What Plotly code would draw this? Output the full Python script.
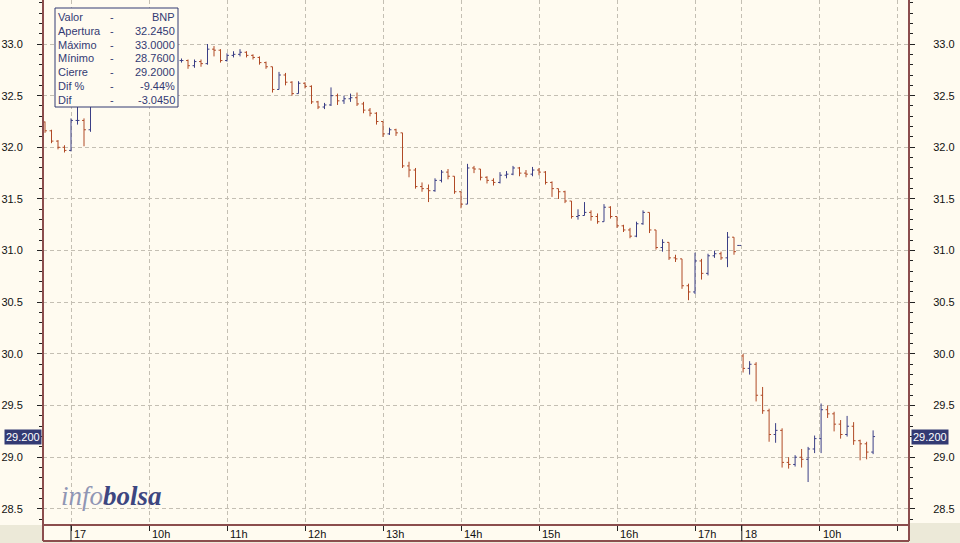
import plotly.graph_objects as go

# ---------------- data (5-minute OHLC bars) ----------------
d17_times = ["%02d:%02d" % divmod(8 * 60 + 40 + 5 * i, 60) for i in range(107)] + ["17:34"]
d17_open = [32.245, 32.16, 32.06, 32.00, 31.97, 32.26, 32.26, 32.17, 32.42, 32.50,
            32.55, 32.62, 32.66, 32.70, 32.72, 32.76, 32.74, 32.78, 32.80, 32.82,
            32.81, 32.84, 32.84, 32.79, 32.83, 32.81, 32.95, 32.94, 32.84, 32.89,
            32.90, 32.92, 32.89, 32.87, 32.82, 32.78, 32.56, 32.70, 32.63, 32.52,
            32.62, 32.59, 32.44, 32.39, 32.41, 32.50, 32.45, 32.47, 32.48, 32.42,
            32.36, 32.33, 32.25, 32.13, 32.17, 32.14, 31.82, 31.78, 31.62, 31.60,
            31.58, 31.68, 31.76, 31.72, 31.57, 31.45, 31.80, 31.79, 31.71, 31.68,
            31.66, 31.73, 31.74, 31.80, 31.75, 31.74, 31.78, 31.76, 31.66, 31.60,
            31.57, 31.48, 31.33, 31.34, 31.37, 31.33, 31.28, 31.42, 31.33, 31.24,
            31.20, 31.14, 31.26, 31.37, 31.20, 31.03, 31.08, 30.93, 30.92, 30.66,
            30.60, 30.90, 30.78, 30.95, 30.97, 30.93, 31.13, 31.05]
d17_high = [32.25, 32.17, 32.07, 32.02, 32.28, 32.40, 32.28, 32.45, 32.55, 32.60,
            32.66, 32.69, 32.73, 32.75, 32.79, 32.78, 32.81, 32.83, 32.85, 32.84,
            32.86, 32.86, 32.85, 32.85, 32.85, 33.00, 32.98, 32.95, 32.91, 32.93,
            32.95, 32.93, 32.90, 32.88, 32.83, 32.78, 32.73, 32.72, 32.64, 32.64,
            32.63, 32.60, 32.45, 32.43, 32.58, 32.52, 32.50, 32.52, 32.53, 32.44,
            32.38, 32.34, 32.25, 32.19, 32.18, 32.14, 31.86, 31.80, 31.66, 31.64,
            31.70, 31.78, 31.79, 31.72, 31.57, 31.84, 31.82, 31.79, 31.72, 31.70,
            31.76, 31.77, 31.82, 31.81, 31.78, 31.81, 31.80, 31.77, 31.67, 31.60,
            31.58, 31.48, 31.40, 31.47, 31.39, 31.36, 31.45, 31.43, 31.33, 31.25,
            31.22, 31.28, 31.39, 31.37, 31.20, 31.11, 31.08, 30.96, 30.92, 30.68,
            30.98, 30.92, 30.97, 31.00, 30.99, 31.18, 31.13, 31.05]
d17_low = [32.14, 32.04, 31.98, 31.95, 31.96, 32.22, 32.01, 32.15, 32.40, 32.48,
           32.52, 32.58, 32.63, 32.66, 32.70, 32.70, 32.72, 32.75, 32.78, 32.78,
           32.79, 32.82, 32.76, 32.77, 32.78, 32.80, 32.88, 32.82, 32.83, 32.87,
           32.88, 32.87, 32.85, 32.80, 32.76, 32.53, 32.56, 32.60, 32.50, 32.52,
           32.57, 32.42, 32.37, 32.37, 32.40, 32.41, 32.42, 32.44, 32.40, 32.33,
           32.30, 32.22, 32.10, 32.12, 32.11, 31.80, 31.71, 31.60, 31.57, 31.47,
           31.57, 31.66, 31.69, 31.55, 31.41, 31.45, 31.75, 31.68, 31.65, 31.63,
           31.65, 31.70, 31.73, 31.72, 31.71, 31.72, 31.73, 31.64, 31.52, 31.50,
           31.46, 31.31, 31.30, 31.34, 31.29, 31.26, 31.28, 31.31, 31.22, 31.18,
           31.12, 31.13, 31.25, 31.17, 31.01, 30.99, 30.91, 30.89, 30.63, 30.52,
           30.58, 30.72, 30.76, 30.93, 30.91, 30.84, 30.96, 31.05]
d17_close = [32.16, 32.06, 32.00, 31.97, 32.26, 32.26, 32.17, 32.42, 32.50, 32.55,
             32.62, 32.66, 32.70, 32.72, 32.76, 32.74, 32.78, 32.80, 32.82, 32.81,
             32.84, 32.84, 32.79, 32.83, 32.81, 32.95, 32.94, 32.84, 32.89, 32.90,
             32.92, 32.89, 32.87, 32.82, 32.78, 32.56, 32.70, 32.63, 32.52, 32.62,
             32.59, 32.44, 32.39, 32.41, 32.50, 32.45, 32.47, 32.48, 32.42, 32.36,
             32.33, 32.25, 32.13, 32.17, 32.14, 31.82, 31.78, 31.62, 31.60, 31.58,
             31.68, 31.76, 31.72, 31.57, 31.45, 31.80, 31.79, 31.71, 31.68, 31.66,
             31.73, 31.74, 31.80, 31.75, 31.74, 31.78, 31.76, 31.66, 31.60, 31.57,
             31.48, 31.33, 31.34, 31.37, 31.33, 31.28, 31.42, 31.33, 31.24, 31.20,
             31.14, 31.26, 31.37, 31.20, 31.03, 31.08, 30.93, 30.92, 30.66, 30.60,
             30.90, 30.78, 30.95, 30.97, 30.93, 31.13, 30.99, 31.05]

d18_times = ["%02d:%02d" % divmod(9 * 60 + 1 + 5 * i, 60) for i in range(21)]
d18_open = [29.98, 29.86, 29.90, 29.60, 29.45, 29.22, 29.26, 28.95, 28.93, 29.00,
            28.98, 29.08, 29.18, 29.46, 29.42, 29.32, 29.22, 29.30, 29.16, 29.13, 29.05]
d18_high = [30.00, 29.93, 29.92, 29.68, 29.47, 29.33, 29.28, 29.00, 29.02, 29.08,
            29.10, 29.21, 29.52, 29.50, 29.44, 29.36, 29.40, 29.34, 29.17, 29.15, 29.26]
d18_low = [29.82, 29.80, 29.54, 29.42, 29.15, 29.14, 28.90, 28.89, 28.91, 28.90,
           28.76, 29.04, 29.04, 29.38, 29.25, 29.18, 29.20, 29.12, 28.97, 28.98, 29.03]
d18_close = [29.86, 29.90, 29.60, 29.45, 29.22, 29.26, 28.95, 28.93, 29.00, 28.98,
             29.08, 29.18, 29.46, 29.42, 29.32, 29.22, 29.30, 29.16, 29.13, 29.05, 29.20]

x_labels_d17 = ["17", "10h", "11h", "12h", "13h", "14h", "15h", "16h", "17h"]
x_labels_d18 = ["18", "10h", ""]
info_rows = [("Valor", "BNP"), ("Apertura", "32.2450"), ("Máximo", "33.0000"),
             ("Mínimo", "28.7600"), ("Cierre", "29.2000"), ("Dif %", "-9.44%"),
             ("Dif", "-3.0450")]
last_price = "29.200"
last_value = 29.20

# ---------------- axis mapping: session minutes, overnight gap removed ----------------
DAY18_OFFSET = 516


def to_min(t):
    h, m = t.split(":")
    return int(h) * 60 + int(m) - 9 * 60


xs = [to_min(t) for t in d17_times] + [DAY18_OFFSET + to_min(t) for t in d18_times]
opens = d17_open + d18_open
highs = d17_high + d18_high
lows = d17_low + d18_low
closes = d17_close + d18_close

tick_d17 = [60 * i for i in range(len(x_labels_d17))]
tick_d18 = [DAY18_OFFSET + 60 * i for i in range(len(x_labels_d18))]
tickvals = tick_d17 + tick_d18
ticklabels = x_labels_d17 + x_labels_d18

# ---------------- layout constants ----------------
W, H = 960, 543
ML, MR, MT, MB = 43, 51, 0, 18
PW, PH = W - ML - MR, H - MT - MB
BG = "#fffbf0"
GREY = "#ece9d8"
BORDER = "#8b4d4d"
NAVY = "#333a73"
UP = "#3b3f86"
DOWN = "#b04a26"
FONT = "Liberation Sans"


def px(X):
    return (X - ML) / PW


def py(Y):
    return (PH - (Y - MT)) / PH


fig = go.Figure()
fig.add_trace(go.Ohlc(
    x=xs, open=opens, high=highs, low=lows, close=closes,
    increasing=dict(line=dict(color=UP, width=1)),
    decreasing=dict(line=dict(color=DOWN, width=1)),
    tickwidth=0.5, showlegend=False, hoverinfo="skip",
))
# invisible copy of the closes on the right-hand price axis so that axis is drawn
fig.add_trace(go.Scatter(x=xs, y=closes, yaxis="y2", mode="lines",
                         line=dict(width=0, color="rgba(0,0,0,0)"),
                         showlegend=False, hoverinfo="skip"))

grid = dict(showgrid=True, gridcolor="#c4bfb3", gridwidth=1, griddash="4px,3px")
yticks = dict(
    range=[28.344, 33.426], tick0=28.5, dtick=0.5, tickformat=".1f",
    ticks="outside", ticklen=5, tickcolor="#222", tickwidth=1,
    minor=dict(dtick=0.1, ticks="outside", ticklen=3, tickcolor="#222", showgrid=False),
    tickfont=dict(family=FONT, size=11, color="#111"),
    zeroline=False, showline=False, fixedrange=True,
)

fig.update_layout(
    width=W, height=H,
    margin=dict(l=ML, r=MR, t=MT, b=MB, pad=0, autoexpand=False),
    paper_bgcolor=BG, plot_bgcolor=BG,
    showlegend=False,
    xaxis=dict(
        range=[(ML - 71) / 1.3, (ML + PW - 71) / 1.3],
        tickvals=tickvals, showticklabels=False,
        ticks="outside", ticklen=5, tickcolor="#222",
        zeroline=False, showline=False,
        rangeslider=dict(visible=False), **grid,
    ),
    yaxis=dict(side="left", ticklabelstandoff=12, **grid, **yticks),
    yaxis2=dict(side="right", overlaying="y", anchor="x", showgrid=False,
                ticklabelstandoff=16, **yticks),
)

shapes = []
# grey corners under the y-label columns
shapes.append(dict(type="rect", xref="paper", yref="paper", x0=px(0), x1=px(ML),
                   y0=py(H), y1=py(525), fillcolor=GREY, line=dict(width=0), layer="below"))
shapes.append(dict(type="rect", xref="paper", yref="paper", x0=px(ML + PW), x1=px(W),
                   y0=py(H), y1=py(523), fillcolor=GREY, line=dict(width=0), layer="below"))
shapes.append(dict(type="rect", xref="paper", yref="paper", x0=px(ML), x1=px(ML + PW),
                   y0=py(H), y1=py(541), fillcolor=GREY, line=dict(width=0), layer="below"))
# frame
for (x0, y0, x1, y1) in [(ML, 0, ML, 541), (ML + PW, 0, ML + PW, 541),
                         (ML, 525, ML + PW, 525), (ML, 541, ML + PW, 541)]:
    shapes.append(dict(type="line", xref="paper", yref="paper", x0=px(x0), x1=px(x1),
                       y0=py(y0), y1=py(y1), line=dict(color=BORDER, width=2), layer="above"))
# day separators in the time strip
for v in (tick_d17[0], tick_d18[0]):
    shapes.append(dict(type="line", xref="x", yref="paper", x0=v, x1=v,
                       y0=py(525), y1=py(541), line=dict(color="#222", width=1)))
# info box
shapes.append(dict(type="rect", xref="paper", yref="paper", x0=px(55), x1=px(178),
                   y0=py(107), y1=py(8), fillcolor=BG, line=dict(color=NAVY, width=1),
                   layer="above"))
fig.update_layout(shapes=shapes)

ann = []
for v, lab in zip(tickvals, ticklabels):
    if lab:
        ann.append(dict(x=v, xref="x", y=py(534), yref="paper", text=lab, showarrow=False,
                        xanchor="left", yanchor="middle", xshift=1,
                        font=dict(family=FONT, size=11, color="#111")))
for i, (lab, val) in enumerate(info_rows):
    yy = py(16.7 + 13.9 * i)
    common = dict(xref="paper", yref="paper", y=yy, showarrow=False, yanchor="middle",
                  font=dict(family=FONT, size=11, color=NAVY))
    ann.append(dict(x=px(56), text=lab, xanchor="left", **common))
    ann.append(dict(x=px(111.5), text="-", xanchor="center", **common))
    ann.append(dict(x=px(176.5), text=val, xanchor="right", **common))
for cx in (22.5, 929.5):
    ann.append(dict(x=px(cx), xref="paper", y=last_value, yref="y", text=last_price,
                    showarrow=False, xanchor="center", yanchor="middle",
                    bgcolor=NAVY, borderpad=1,
                    font=dict(family=FONT, size=11, color="white")))
ann.append(dict(x=px(59), xref="paper", y=py(496), yref="paper", showarrow=False,
                xanchor="left", yanchor="middle",
                text="<i><span style='color:#9096b4'>info</span>"
                     "<span style='color:#3d4680'><b>bolsa</b></span></i>",
                font=dict(family="Liberation Serif", size=27)))
fig.update_layout(annotations=ann)

fig.write_html("out.html", config={"displayModeBar": False},
               post_script="document.body.style.margin='0px';"
                           "document.body.style.overflow='hidden';")
